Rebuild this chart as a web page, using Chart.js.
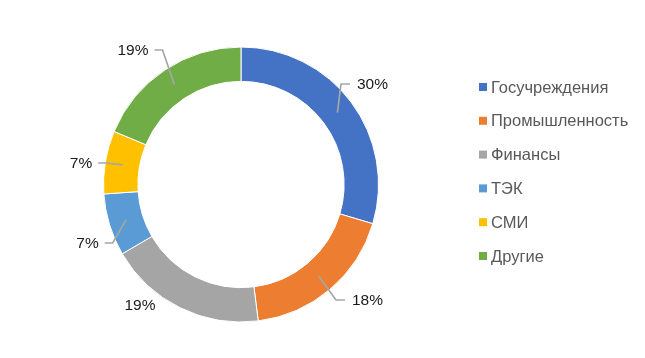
<!DOCTYPE html>
<html>
<head>
<meta charset="utf-8">
<script src="https://cdn.jsdelivr.net/npm/chart.js@4"></script>
<style>
  html, body { margin: 0; padding: 0; background: #ffffff; }
  #wrap { width: 645px; height: 358px; }
</style>
</head>
<body>
<div id="wrap"><canvas id="c" width="645" height="358"></canvas></div>
<script>
// ---- data ----
const categories = ["Госучреждения", "Промышленность", "Финансы", "ТЭК", "СМИ", "Другие"];
const shares = [29.6, 18.4, 18.6, 7.3, 7.4, 18.7];
const sliceColors = ["#4472C4", "#ED7D31", "#A5A5A5", "#5B9BD5", "#FFC000", "#70AD47"];

// label text centre offsets from doughnut centre (layout only)
const labelOffsets = [[131.5, -100.5], [126.5, 115.5], [-101, 120.5], [-153.5, 58.5], [-160, -21.5], [-108, -134.5]];
const showLeader = [true, true, false, true, true, true];

const labelPlugin = {
  id: 'pctLabels',
  afterDatasetsDraw(chart) {
    const ctx = chart.ctx;
    const meta = chart.getDatasetMeta(0);
    const data = chart.data.datasets[0].data;
    const total = data.reduce((a, b) => a + b, 0);
    ctx.save();
    ctx.font = '15.5px "Liberation Sans", Arial, sans-serif';
    ctx.textBaseline = 'middle';
    ctx.textAlign = 'center';
    meta.data.forEach((arc, i) => {
      const p = arc.getProps(['x', 'y', 'startAngle', 'endAngle', 'innerRadius', 'outerRadius'], true);
      const mid = (p.startAngle + p.endAngle) / 2;
      const r = (p.innerRadius + p.outerRadius) / 2;
      const ax = p.x + Math.cos(mid) * r;
      const ay = p.y + Math.sin(mid) * r;
      const txt = Math.round(data[i] / total * 100) + '%';
      const tx = p.x + labelOffsets[i][0];
      const ty = p.y + labelOffsets[i][1];
      const w = ctx.measureText(txt).width;
      if (showLeader[i]) {
        const right = tx > p.x;
        const edge = right ? tx - w / 2 - 7 : tx + w / 2 + 6;
        const elbow = right ? edge - 9 : edge + 8;
        ctx.strokeStyle = '#A6A6A6';
        ctx.lineWidth = 1.7;
        ctx.beginPath();
        ctx.moveTo(edge, ty);
        ctx.lineTo(elbow, ty);
        ctx.lineTo(ax, ay);
        ctx.stroke();
      }
      ctx.fillStyle = '#1a1a1a';
      ctx.fillText(txt, tx, ty + 1);
    });
    ctx.restore();
  }
};

const legendPlugin = {
  id: 'sideLegend',
  afterDraw(chart) {
    const ctx = chart.ctx;
    const labels = chart.data.labels;
    const colors = chart.data.datasets[0].backgroundColor;
    ctx.save();
    ctx.font = '16.5px "Liberation Sans", Arial, sans-serif';
    ctx.textBaseline = 'middle';
    ctx.textAlign = 'left';
    const x0 = 479, y0 = 87, step = 33.8;
    labels.forEach((lab, i) => {
      const y = y0 + i * step;
      ctx.fillStyle = colors[i];
      ctx.fillRect(x0, y - 4, 8, 8);
      ctx.fillStyle = '#595959';
      ctx.fillText(lab, x0 + 12, y + 1);
    });
    ctx.restore();
  }
};

new Chart(document.getElementById('c'), {
  type: 'doughnut',
  data: {
    labels: categories,
    datasets: [{
      data: shares,
      backgroundColor: sliceColors,
      borderColor: '#ffffff',
      borderWidth: 1
    }]
  },
  options: {
    responsive: false,
    animation: false,
    cutout: '75%',
    layout: { padding: { top: 46.5, bottom: 35.5, left: 103, right: 266 } },
    plugins: { legend: { display: false }, tooltip: { enabled: false } }
  },
  plugins: [labelPlugin, legendPlugin]
});
</script>
</body>
</html>
